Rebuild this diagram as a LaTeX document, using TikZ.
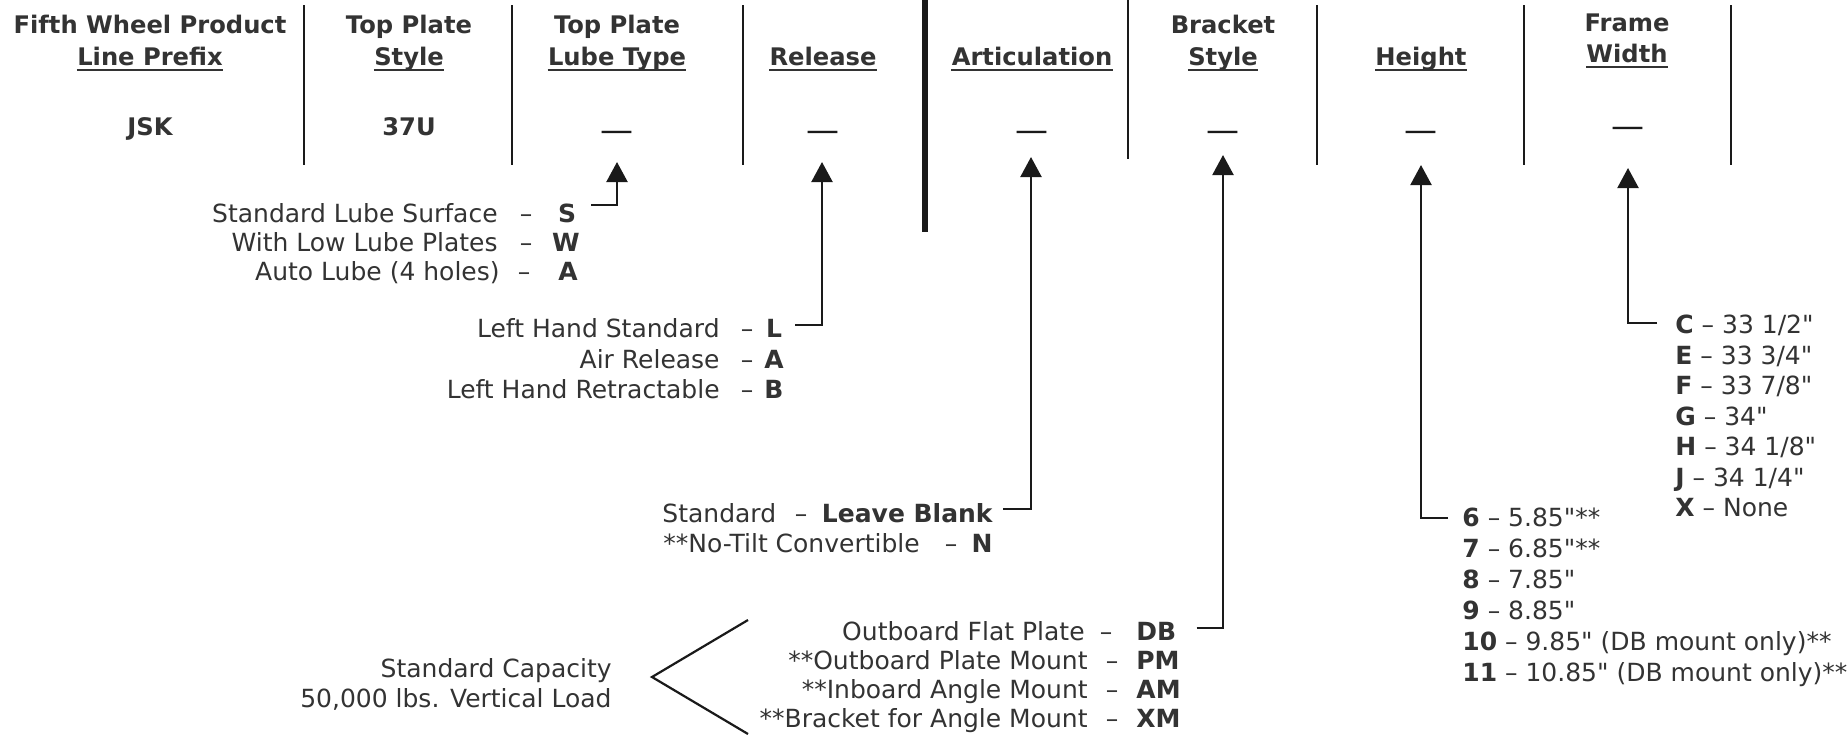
\documentclass[tikz,border=0pt]{standalone}
\usepackage{fontspec}
\setmainfont[Ligatures=TeXOff]{DejaVu Sans}
\usetikzlibrary{arrows.meta,calc}
\definecolor{txt}{HTML}{333333}
\definecolor{ink}{HTML}{1A1A1A}
\tikzset{
  hdr/.style={font=\fontsize{12.1pt}{14pt}\selectfont\bfseries, text=txt, inner sep=0pt, anchor=base},
  valtxt/.style={hdr},
  blank/.style={font=\fontsize{16.5pt}{18pt}\selectfont, text=ink, inner sep=0pt, anchor=base},
  opt/.style={font=\fontsize{12.5pt}{15pt}\selectfont, text=txt, inner sep=0pt},
  code/.style={font=\fontsize{12.5pt}{15pt}\selectfont\bfseries, text=txt, inner sep=0pt},
  sepline/.style={line width=1.35pt, ink},
  thickline/.style={line width=2.8pt, ink},
  con/.style={line width=1.1pt, ink, -{Triangle[width=10.5pt,length=10pt]}},
  plain/.style={line width=1.1pt, ink},
  uline/.style={line width=1pt, txt}
}
\newcommand{\ul}[1]{\draw[uline] ($(#1.base west)+(0,4.5)$) -- ($(#1.base east)+(0,4.5)$);}
\begin{document}
\begin{tikzpicture}[x=0.5pt,y=-0.5pt]
\fill[white] (0,0) rectangle (1848,736);
\useasboundingbox (0,0) rectangle (1848,736);

% ---- column separators
\draw[sepline] (304,5) -- (304,165);
\draw[sepline] (512,5) -- (512,165);
\draw[sepline] (743,5) -- (743,165);
\draw[thickline] (925,0) -- (925,232);
\draw[sepline] (1128,0) -- (1128,159);
\draw[sepline] (1317,5) -- (1317,165);
\draw[sepline] (1524,5) -- (1524,165);
\draw[sepline] (1731,5) -- (1731,165);

% ---- headers
\node[hdr] (h1a) at (150,33) {Fifth Wheel Product};
\node[hdr] (h1b) at (150,65) {Line Prefix};
\node[hdr] (h2a) at (409,33) {Top Plate};
\node[hdr] (h2b) at (409,65) {Style};
\node[hdr] (h3a) at (617,33) {Top Plate};
\node[hdr] (h3b) at (617,65) {Lube Type};
\node[hdr] (h4b) at (823,65) {Release};
\node[hdr] (h5b) at (1032,65) {Articulation};
\node[hdr] (h6a) at (1223,33) {Bracket};
\node[hdr] (h6b) at (1223,65) {Style};
\node[hdr] (h7b) at (1421,65) {Height};
\node[hdr] (h8a) at (1627,31) {Frame};
\node[hdr] (h8b) at (1627,62) {Width};
\ul{h1b}\ul{h2b}\ul{h3b}\ul{h4b}\ul{h5b}\ul{h6b}\ul{h7b}\ul{h8b}

% ---- values
\node[valtxt] (v1) at (150,135) {JSK};
\node[valtxt] (v2) at (409,135) {37U};
\node[blank] (v3) at (617,141) {—};
\node[blank] (v4) at (823,141) {—};
\node[blank] (v5) at (1032,141) {—};
\node[blank] (v6) at (1223,141) {—};
\node[blank] (v7) at (1421,141) {—};
\node[blank] (v8) at (1628,137) {—};

% ---- arrow tips
\coordinate (t3) at (617,162);
\coordinate (t4) at (822,162);
\coordinate (t5) at (1031,157);
\coordinate (t6) at (1223,155);
\coordinate (t7) at (1421,165);
\coordinate (t8) at (1628,168);

% ---- lube type options
\node[opt,anchor=base east] (lS) at (498,222) {Standard Lube Surface};
\node[opt,anchor=base] (lSd) at (526,222) {–};
\node[code,anchor=base] (lSc) at (567,222) {S};
\node[opt,anchor=base east] (lW) at (498,251) {With Low Lube Plates};
\node[opt,anchor=base] (lWd) at (526,251) {–};
\node[code,anchor=base] (lWc) at (566,251) {W};
\node[opt,anchor=base east] (lA) at (500,280) {Auto Lube (4 holes)};
\node[opt,anchor=base] (lAd) at (524,280) {–};
\node[code,anchor=base] (lAc) at (568,280) {A};
\draw[con] ($(lSc.east)+(15,-8)$) -| (t3);

% ---- release options
\node[opt,anchor=base east] (rL) at (720,337) {Left Hand Standard};
\node[opt,anchor=base] (rLd) at (747,337) {–};
\node[code,anchor=base] (rLc) at (774,337) {L};
\node[opt,anchor=base east] (rA) at (720,368) {Air Release};
\node[opt,anchor=base] (rAd) at (747,368) {–};
\node[code,anchor=base] (rAc) at (774,368) {A};
\node[opt,anchor=base east] (rB) at (720,398) {Left Hand Retractable};
\node[opt,anchor=base] (rBd) at (747,398) {–};
\node[code,anchor=base] (rBc) at (774,398) {B};
\draw[con] ($(rLc.east)+(13,-3)$) -| (t4);

% ---- articulation options
\node[opt,anchor=base west] (aS) at (662,522) {Standard};
\node[opt,anchor=base] (aSd) at (801,522) {–};
\node[code,anchor=base east] (aSc) at (993,522) {Leave Blank};
\node[opt,anchor=base west] (aN) at (663,552) {**No-Tilt Convertible};
\node[opt,anchor=base] (aNd) at (951,552) {–};
\node[code,anchor=base east] (aNc) at (993,552) {N};
\draw[con] ($(aSc.east)+(10,-3.5)$) -| (t5);

% ---- bracket style options
\node[opt,anchor=base east] (bDB) at (1085,640) {Outboard Flat Plate};
\node[opt,anchor=base] (bDBd) at (1106,640) {–};
\node[code,anchor=base west] (bDBc) at (1136,640) {DB};
\node[opt,anchor=base east] (bPM) at (1088,669) {**Outboard Plate Mount};
\node[opt,anchor=base] (bPMd) at (1112,669) {–};
\node[code,anchor=base west] (bPMc) at (1136,669) {PM};
\node[opt,anchor=base east] (bAM) at (1088,698) {**Inboard Angle Mount};
\node[opt,anchor=base] (bAMd) at (1112,698) {–};
\node[code,anchor=base west] (bAMc) at (1136,698) {AM};
\node[opt,anchor=base east] (bXM) at (1088,727) {**Bracket for Angle Mount};
\node[opt,anchor=base] (bXMd) at (1112,727) {–};
\node[code,anchor=base west] (bXMc) at (1136,727) {XM};
\draw[con] ($(bDBc.east)+(20,-3)$) -| (t6);

% ---- capacity
\node[opt,anchor=base east] (cap1) at (612,677) {Standard Capacity};
\node[opt,anchor=base east] (cap2) at (612,707) {50,000 lbs. Vertical Load};
\coordinate (apex) at ($(cap1.base east)+(40,0)$);
\draw[plain] ($(apex)+(96,-57)$) -- (apex) -- ($(apex)+(96,57)$);

% ---- height options
\node[opt,anchor=base west] (ht6) at (1462,526) {\textbf{6} – 5.85"**};
\node[opt,anchor=base west] (ht7) at (1462,557) {\textbf{7} – 6.85"**};
\node[opt,anchor=base west] (ht8) at (1462,588) {\textbf{8} – 7.85"};
\node[opt,anchor=base west] (ht9) at (1462,619) {\textbf{9} – 8.85"};
\node[opt,anchor=base west] (ht10) at (1462,650) {\textbf{10} – 9.85" (DB mount only)**};
\node[opt,anchor=base west] (ht11) at (1462,681) {\textbf{11} – 10.85" (DB mount only)**};
\draw[con] ($(ht6.west)+(-14,1)$) -| (t7);

% ---- frame width options
\node[opt,anchor=base west] (fC) at (1675,333) {\textbf{C} – 33 1/2"};
\node[opt,anchor=base west] (fE) at (1675,364) {\textbf{E} – 33 3/4"};
\node[opt,anchor=base west] (fF) at (1675,394) {\textbf{F} – 33 7/8"};
\node[opt,anchor=base west] (fG) at (1675,425) {\textbf{G} – 34"};
\node[opt,anchor=base west] (fH) at (1675,455) {\textbf{H} – 34 1/8"};
\node[opt,anchor=base west] (fJ) at (1675,486) {\textbf{J} – 34 1/4"};
\node[opt,anchor=base west] (fX) at (1675,516) {\textbf{X} – None};
\draw[con] ($(fC.west)+(-18,-2)$) -| (t8);
\end{tikzpicture}
\end{document}
